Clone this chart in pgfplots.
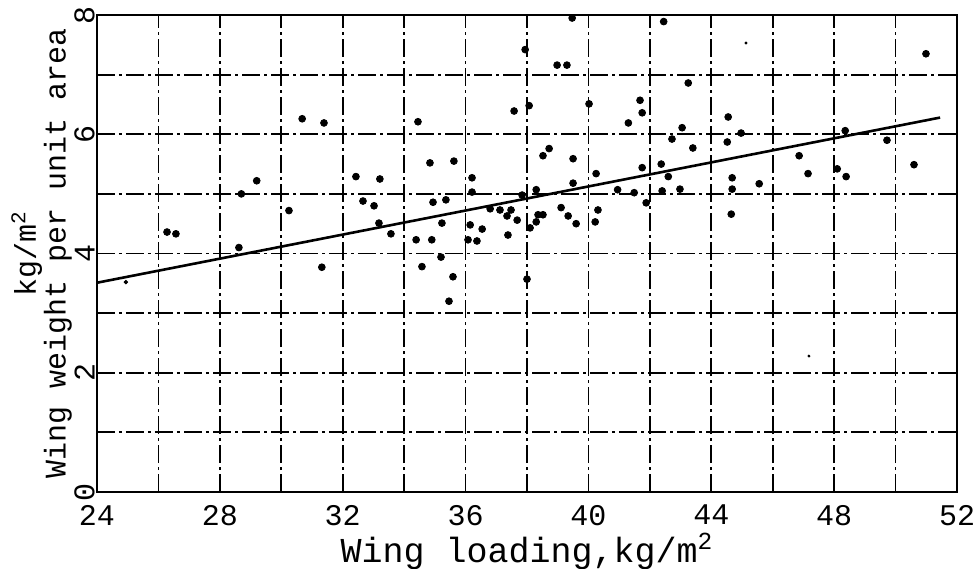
\documentclass[border=0pt]{standalone}
\usepackage{pgfplots}
\pgfplotsset{compat=1.18}
\usepackage{fontspec}
\setmainfont{Liberation Mono}

\pgfplotstableread{
x y
26.28 4.36
26.57 4.33
28.62 4.10
28.70 5.00
29.20 5.22
30.25 4.72
30.68 6.26
31.39 6.19
31.32 3.77
32.43 5.29
33.21 5.25
32.66 4.88
33.02 4.80
33.18 4.51
33.57 4.33
34.39 4.23
34.58 3.78
34.45 6.21
34.84 5.52
34.90 4.23
35.62 5.55
34.94 4.86
35.36 4.90
35.23 4.51
35.20 3.94
35.59 3.61
35.46 3.20
36.21 5.27
36.21 5.03
36.08 4.23
36.37 4.21
36.15 4.48
36.54 4.41
36.80 4.75
37.12 4.73
37.48 4.73
37.35 4.63
37.68 4.56
37.38 4.31
37.58 6.39
38.07 6.48
37.84 4.98
38.30 5.07
38.36 4.65
38.52 4.65
38.30 4.53
38.10 4.43
38.00 3.57
38.52 5.64
38.72 5.76
37.94 7.42
38.98 7.16
39.30 7.16
39.47 7.95
39.50 5.59
39.50 5.18
39.11 4.77
39.34 4.63
39.60 4.50
40.02 6.51
40.25 5.34
40.31 4.73
40.22 4.53
40.95 5.07
41.49 5.02
41.88 4.85
41.30 6.19
41.68 6.57
41.75 6.36
41.75 5.44
42.37 5.50
42.60 5.29
42.40 5.05
42.98 5.08
42.72 5.92
43.05 6.11
43.40 5.77
43.25 6.86
42.45 7.89
44.55 6.29
44.52 5.87
44.97 6.02
44.68 5.27
44.68 5.08
44.65 4.66
45.56 5.17
46.86 5.64
47.15 5.34
48.10 5.42
48.39 5.29
48.36 6.06
49.72 5.90
50.60 5.49
50.99 7.35
}\pts

\begin{document}
\begin{tikzpicture}
\path[use as bounding box] (-48.5pt,-38pt) rectangle (438.5pt,246pt);
\begin{axis}[
  scale only axis,
  width=430pt, height=238.5pt,
  xmin=24, xmax=52, ymin=0, ymax=8,
  xtick={24,28,...,52}, ytick={0,2,...,8},
  minor x tick num=1, minor y tick num=1,
  major tick length=0pt, minor tick length=0pt,
  grid=both,
  grid style={black, line width=0.9pt, dash pattern=on 9pt off 2pt on 1.5pt off 2pt},
  minor grid style={black, line width=0.9pt, dash pattern=on 9pt off 2pt on 1.5pt off 2pt},
  axis line style={line width=1.2pt},
  /pgf/number format/assume math mode=true,
  tick label style={font=\fontsize{15}{15}\selectfont},
  xticklabel style={yshift=-3pt},
  yticklabel style={rotate=90, anchor=south, inner sep=1pt},
  xlabel={Wing loading,kg/m\textsuperscript{2}},
  xlabel style={font=\fontsize{17.5}{17.5}\selectfont, yshift=3pt},
  ylabel={kg/m\textsuperscript{2}\\Wing weight per unit area},
  ylabel style={font=\fontsize{15}{8}\selectfont, align=center, at={([xshift=-9pt]axis description cs:0,0.5)}, rotate=0, anchor=south},
]
\addplot[black, line width=1.3pt] coordinates {(24,3.51) (51.45,6.28)};
\addplot[only marks, mark=*, mark size=1.7pt, black] table {\pts};
\addplot[only marks, mark=*, mark size=0.9pt, black] coordinates {(24.94,3.52)};
\addplot[only marks, mark=*, mark size=0.5pt, black] coordinates {(45.13,7.53) (47.18,2.28)};
\end{axis}
\end{tikzpicture}
\end{document}
